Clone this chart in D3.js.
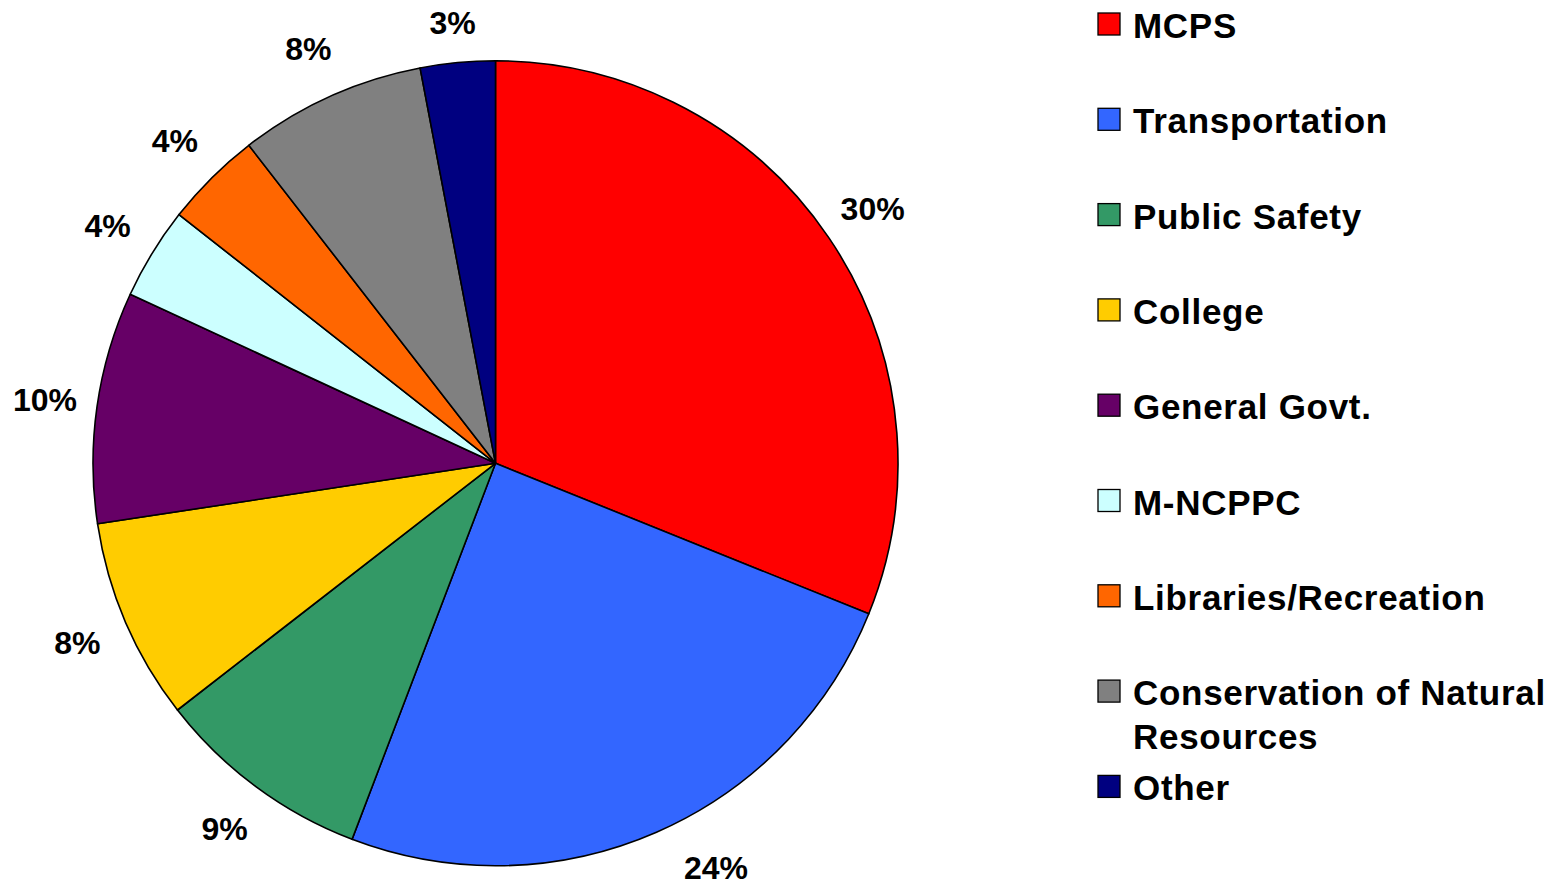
<!DOCTYPE html>
<html>
<head>
<meta charset="utf-8">
<script src="https://cdn.jsdelivr.net/npm/d3@7"></script>
<style>
  html, body { margin: 0; padding: 0; background: #fff; }
  svg { display: block; }
  text { font-family: "Liberation Sans", Arial, sans-serif; font-weight: bold; fill: #000; }
</style>
</head>
<body>
<svg id="chart" width="1560" height="887"></svg>
<script>
// Data (shares in percent) and printed labels
const categories = ["MCPS", "Transportation", "Public Safety", "College", "General Govt.",
  "M-NCPPC", "Libraries/Recreation", "Conservation of Natural Resources", "Other"];
const values = [31.1, 24.7, 8.7, 8.1, 9.3, 3.7, 3.9, 7.5, 3.0];
const valueLabels = ["30%", "24%", "9%", "8%", "10%", "4%", "4%", "8%", "3%"];
const legendLines = [["MCPS"], ["Transportation"], ["Public Safety"], ["College"], ["General Govt."],
  ["M-NCPPC"], ["Libraries/Recreation"], ["Conservation of Natural", "Resources"], ["Other"]];
const colors = ["#FF0000", "#3366FF", "#339966", "#FFCC00", "#660066",
  "#CCFFFF", "#FF6600", "#808080", "#000080"];

const W = 1560, H = 887;
const svg = d3.select("#chart");
const cx = 495.5, cy = 463.3, R = 402.5, labelR = 455;

const pie = d3.pie().sort(null).value(d => d.v);
const data = categories.map((c, i) => ({ c, v: values[i], lab: valueLabels[i], col: colors[i] }));
const arcs = pie(data);
const arc = d3.arc().innerRadius(0).outerRadius(R);

const g = svg.append("g").attr("transform", `translate(${cx},${cy})`);
g.selectAll("path.slice").data(arcs).enter().append("path")
  .attr("class", "slice")
  .attr("d", arc)
  .attr("fill", d => d.data.col)
  .attr("stroke", "#000")
  .attr("stroke-width", 1.6)
  .attr("stroke-linejoin", "round");

// label placement: along mid-angle, kept inside the chart area
function labelPos(d) {
  const a = (d.startAngle + d.endAngle) / 2;
  let x = labelR * Math.sin(a), y = -labelR * Math.cos(a);
  const maxY = H - 20 - cy, minY = 22 - cy;
  if (y > maxY) {
    y = maxY;
    x = Math.sign(x) * Math.sqrt(Math.max(0, (labelR + 5) * (labelR + 5) - y * y));
  }
  if (y < minY) y = minY;
  return [x, y];
}

g.selectAll("text.pct").data(arcs).enter().append("text")
  .attr("class", "pct")
  .attr("transform", d => `translate(${labelPos(d)})`)
  .attr("text-anchor", "middle")
  .attr("dy", "0.36em")
  .style("font-size", "32px")
  .text(d => d.data.lab);

// Legend
const legend = svg.append("g").attr("transform", "translate(1098,38)");
const step = 95.3, lineH = 44;
const items = legend.selectAll("g.item").data(categories).enter().append("g")
  .attr("class", "item")
  .attr("transform", (d, i) => `translate(0,${i * step})`);
items.append("rect")
  .attr("x", 0).attr("y", -25)
  .attr("width", 22).attr("height", 22)
  .attr("fill", (d, i) => colors[i])
  .attr("stroke", "#000").attr("stroke-width", 1.3);
items.each(function(d, i) {
  const t = d3.select(this).append("text")
    .attr("x", 35).attr("y", 0)
    .style("font-size", "35px")
    .style("letter-spacing", "0.7px");
  legendLines[i].forEach((ln, k) => {
    t.append("tspan").attr("x", 35).attr("y", k * lineH).text(ln);
  });
});
</script>
</body>
</html>
